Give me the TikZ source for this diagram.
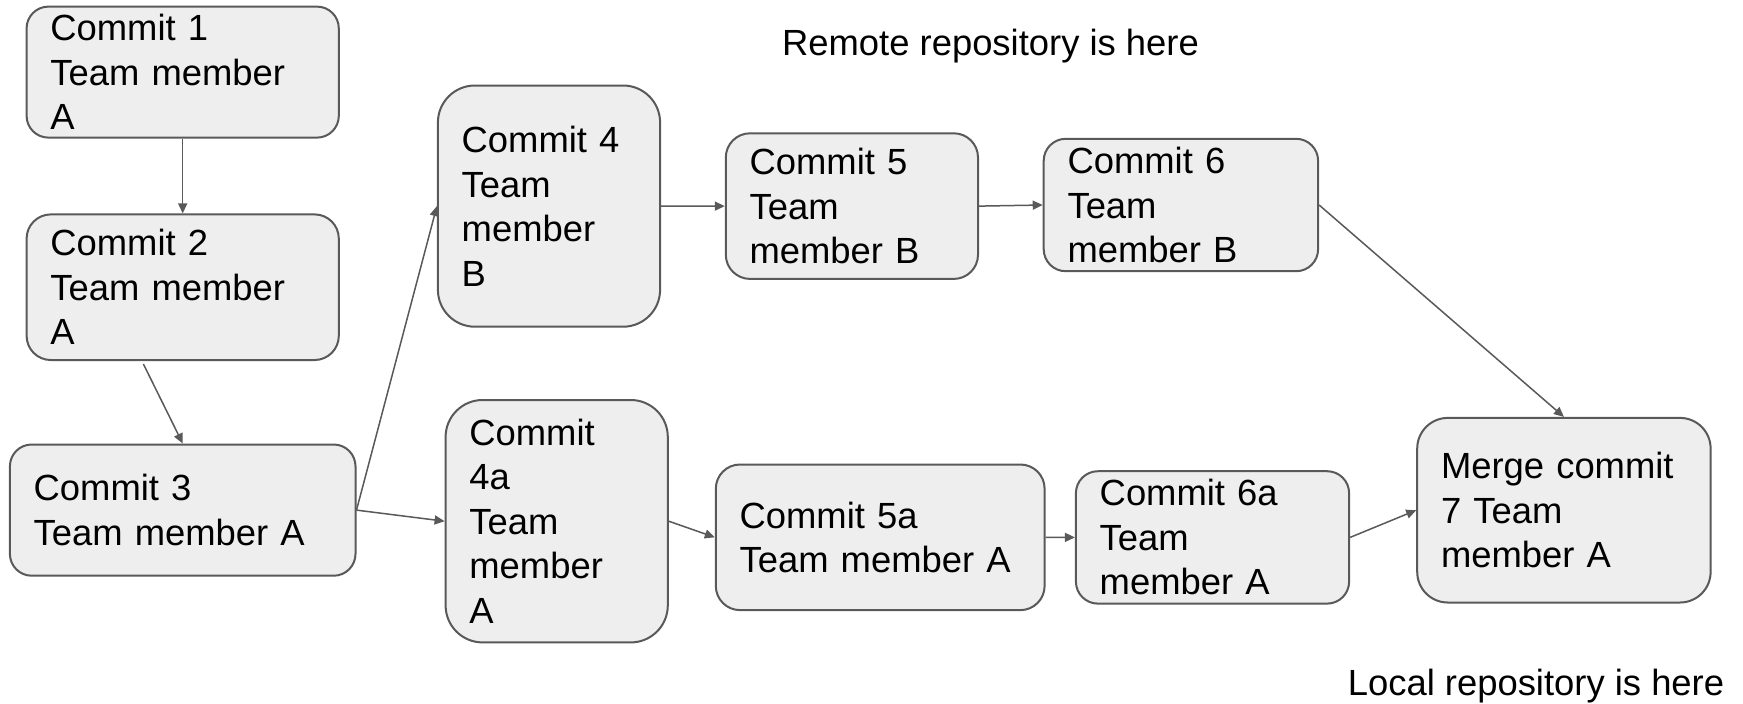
\documentclass[tikz,border=0pt]{standalone}
\usepackage{fontspec}
\setmainfont{Liberation Sans}
\usetikzlibrary{arrows.meta}
\definecolor{boxfill}{HTML}{EEEEEE}
\definecolor{boxline}{HTML}{595959}
\tikzset{
  commitbox/.style={draw=boxline, fill=boxfill, line width=1pt, align=left,
    anchor=north west, inner xsep=11.9pt, inner ysep=0pt,
    font=\fontsize{18.2pt}{22.25pt}\selectfont},
  conn/.style={draw=boxline, line width=0.75pt, -{Triangle[length=5pt,width=4.5pt]}},
  plain/.style={font=\fontsize{18.2pt}{22.25pt}\selectfont, inner sep=0pt}
}
\begin{document}
\begin{tikzpicture}[x=0.5pt,y=-0.5pt]
\useasboundingbox[fill=white] (0,0) rectangle (1743,703);
\node[commitbox, text width=132.3pt, minimum height=65.5pt, rounded corners=10.9pt] (c1) at (25.6,5.6) {Commit 1\\Team member\\A};
\node[commitbox, text width=132.3pt, minimum height=72.8pt, rounded corners=12.1pt] (c2) at (25.6,213.4) {Commit 2\\Team member\\A};
\node[commitbox, text width=149pt, minimum height=65.6pt, rounded corners=10.9pt] (c3) at (8.9,443.5) {Commit 3\\Team member A};
\node[commitbox, text width=87.3pt, minimum height=120.6pt, rounded corners=18.5pt] (c4) at (436.9,84.5) {Commit 4\\Team\\member\\B};
\node[commitbox, text width=87.3pt, minimum height=121.2pt, rounded corners=18.5pt] (c4a) at (444.6,399) {Commit\\4a\\Team\\member\\A};
\node[commitbox, text width=102.3pt, minimum height=72.8pt, rounded corners=12.1pt] (c5) at (724.8,132.3) {Commit 5\\Team\\member B};
\node[commitbox, text width=113.4pt, minimum height=66.2pt, rounded corners=11pt] (c6) at (1042.7,137.8) {Commit 6\\Team\\member B};
\node[commitbox, text width=140.6pt, minimum height=72.8pt, rounded corners=12.1pt] (c5a) at (714.8,463.5) {Commit 5a\\Team member A};
\node[commitbox, text width=112.8pt, minimum height=66.2pt, rounded corners=11pt] (c6a) at (1074.9,470.2) {Commit 6a\\Team\\member A};
\node[commitbox, text width=122.9pt, minimum height=92.3pt, rounded corners=15.3pt] (m) at (1416.2,416.9) {Merge commit\\7 Team\\member A};
\node[plain] (remote) at (990.5,46) {Remote repository is here};
\node[plain] (local) at (1536,686.5) {Local repository is here};
\coordinate (s23) at (143.4,364);
\draw[conn] (c1.south) -- (c2.north);
\draw[conn] (s23) -- (c3.north);
\draw[conn] (c3.east) -- (c4.west);
\draw[conn] (c3.east) -- (c4a.west);
\draw[conn] (c4.east) -- (c5.west);
\draw[conn] (c5.east) -- (c6.west);
\draw[conn] (c6.east) -- (m.north);
\draw[conn] (c4a.east) -- (c5a.west);
\draw[conn] (c5a.east) -- (c6a.west);
\draw[conn] (c6a.east) -- (m.west);
\end{tikzpicture}
\end{document}
